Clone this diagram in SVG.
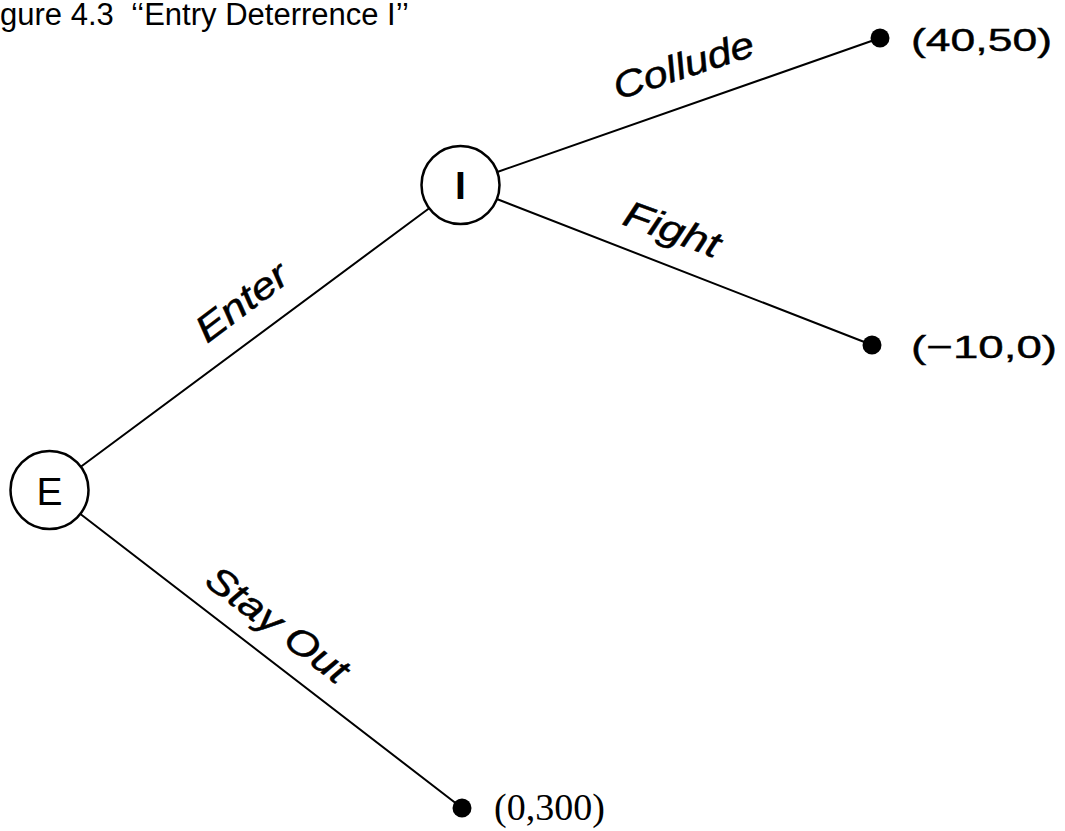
<svg xmlns="http://www.w3.org/2000/svg" width="1065" height="831" viewBox="0 0 1065 831">
<style>
.bg{fill:#ffffff}
.edge{stroke:#000;stroke-width:2;fill:none;stroke-linecap:round}
.node{fill:#fff;stroke:#000;stroke-width:2.5}
.dot{fill:#000}
.nlabel{font-family:"Liberation Sans",Arial,sans-serif;font-size:39px;fill:#000;text-anchor:middle}
.blabel{font-family:"Liberation Sans",Arial,sans-serif;font-size:37px;font-style:italic;fill:#000;stroke:#000;stroke-width:0.5}
.pay{font-family:"Liberation Sans",Arial,sans-serif;font-size:32px;fill:#000;stroke:#000;stroke-width:0.4}
.pays{font-family:"Liberation Serif","Times New Roman",serif;font-size:38px;fill:#000}
.title{font-family:"Liberation Sans",Arial,sans-serif;font-size:31px;fill:#000;white-space:pre}
</style>
<rect class="bg" x="0" y="0" width="1065" height="831"/>
<text id="title" class="title" x="0" y="25" xml:space="preserve">gure 4.3  ‘‘Entry Deterrence I’’</text>
<g id="connectors">
  <line class="edge" x1="80.8" y1="466.8" x2="429.2" y2="208.2"/>
  <line class="edge" x1="497.3" y1="172" x2="880" y2="38"/>
  <line class="edge" x1="496.8" y1="199" x2="872" y2="345"/>
  <line class="edge" x1="80.4" y1="514" x2="462" y2="808"/>
  <text class="blabel" transform="translate(207,344) rotate(-37)" textLength="106" lengthAdjust="spacingAndGlyphs">Enter</text>
  <text class="blabel" transform="translate(618,100) rotate(-18)" textLength="146" lengthAdjust="spacingAndGlyphs">Collude</text>
  <text class="blabel" transform="translate(621,224) rotate(20)" textLength="100" lengthAdjust="spacingAndGlyphs">Fight</text>
  <text class="blabel" transform="translate(203,584) rotate(37)" textLength="168" lengthAdjust="spacingAndGlyphs">Stay Out</text>
</g>
<g id="node-E">
  <circle class="node" cx="49.5" cy="490" r="39"/>
  <text class="nlabel" x="49.5" y="505">E</text>
</g>
<g id="node-I">
  <circle class="node" cx="460.5" cy="185" r="39"/>
  <text class="nlabel" x="460.5" y="199" style="font-weight:bold">I</text>
</g>
<g id="end-collude">
  <circle class="dot" cx="880" cy="38" r="9.5"/>
  <text class="pay" x="911" y="51" textLength="141" lengthAdjust="spacingAndGlyphs">(40,50)</text>
</g>
<g id="end-fight">
  <circle class="dot" cx="872" cy="345" r="9.5"/>
  <text class="pay" x="911" y="358" textLength="146" lengthAdjust="spacingAndGlyphs">(−10,0)</text>
</g>
<g id="end-stayout">
  <circle class="dot" cx="462" cy="808" r="9.5"/>
  <text class="pays" x="494" y="820">(0,300)</text>
</g>
</svg>
